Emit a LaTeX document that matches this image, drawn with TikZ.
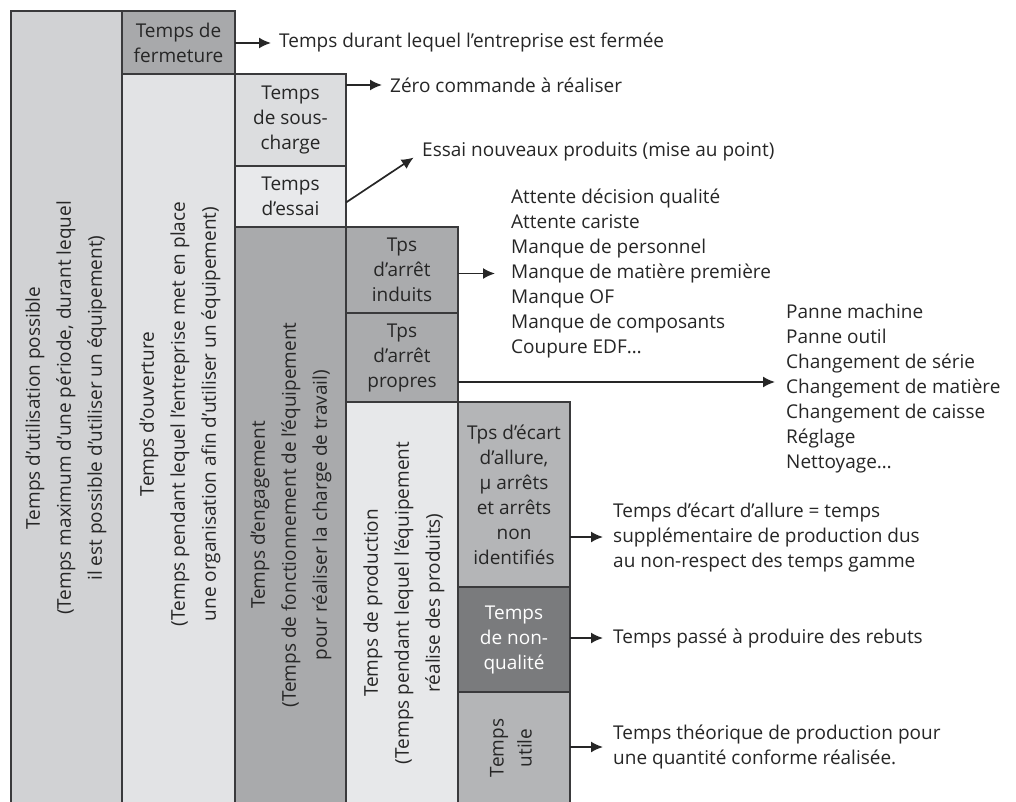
\documentclass[tikz,border=0pt]{standalone}
\usepackage{fontspec}
\setmainfont{Open Sans}
\usetikzlibrary{arrows.meta}
\definecolor{ink}{HTML}{262626}
\definecolor{edge}{HTML}{3A3A3C}
\definecolor{gPossible}{HTML}{D1D2D4}
\definecolor{gFerm}{HTML}{A8A9AB}
\definecolor{gOuv}{HTML}{E2E3E5}
\definecolor{gSous}{HTML}{DCDDDF}
\definecolor{gEssai}{HTML}{E8E9EB}
\definecolor{gEng}{HTML}{A9AAAC}
\definecolor{gArret}{HTML}{AAABAD}
\definecolor{gProd}{HTML}{E7E8EA}
\definecolor{gEcart}{HTML}{B4B5B7}
\definecolor{gNonq}{HTML}{7A7B7D}
\begin{document}
\begin{tikzpicture}[x=1pt,y=-1pt,
  font=\fontsize{19}{25}\selectfont, text=ink,
  box/.style={draw=edge, line width=1.8pt, anchor=north west, inner sep=0pt,
              outer sep=0pt, align=center},
  vtext/.style={rotate=90, align=center, inner sep=0pt,
                font=\fontsize{19}{31}\selectfont},
  note/.style={anchor=west, align=left, inner sep=0pt},
  arr/.style={draw=ink, line width=1.7pt, -{Latex[length=12pt,width=11pt]}, shorten >=8pt}]
\useasboundingbox (0,0) rectangle (1016,802);
\clip (0,0) rectangle (1016,802);

% column 1
\node[box, fill=gPossible, minimum width=111pt, minimum height=801pt] (poss) at (11,11) {};
% column 2
\node[box, fill=gFerm, minimum width=113pt, minimum height=63pt] (ferm) at (122,11) {Temps de\\fermeture};
\node[box, fill=gOuv, minimum width=113pt, minimum height=738pt] (ouv) at (122,74) {};
% column 3
\node[box, fill=gSous, minimum width=111pt, minimum height=92pt] (sous) at (235,74) {Temps\\de sous-\\charge};
\node[box, fill=gEssai, minimum width=111pt, minimum height=61pt] (essai) at (235,166) {Temps\\d’essai};
\node[box, fill=gEng, minimum width=111pt, minimum height=585pt] (eng) at (235,227) {};
% column 4
\node[box, fill=gArret, minimum width=112pt, minimum height=86pt] (induits) at (346,227) {Tps\\d’arrêt\\induits};
\node[box, fill=gArret, minimum width=112pt, minimum height=89pt] (propres) at (346,313) {Tps\\d’arrêt\\propres};
\node[box, fill=gProd, minimum width=112pt, minimum height=410pt] (prod) at (346,402) {};
% column 5
\node[box, fill=gEcart, minimum width=112pt, minimum height=185pt] (ecart) at (458,402) {Tps d’écart\\d’allure,\\µ arrêts\\et arrêts\\non\\identifiés};
\node[box, fill=gNonq, minimum width=112pt, minimum height=105pt, text=white] (nonq) at (458,587) {Temps\\de non-\\qualité};
\node[box, fill=gEcart, minimum width=112pt, minimum height=120pt] (utile) at (458,692) {};

% vertical labels
\node[vtext] (possT) at (66,408) {Temps d’utilisation possible\\(Temps maximum d’une période, durant lequel\\il est possible d’utiliser un équipement)};
\node[vtext] (ouvT) at (180,414) {Temps d’ouverture\\(Temps pendant lequel l’entreprise met en place\\une organisation afin d’utiliser un équipement)};
\node[vtext] (engT) at (291,515) {Temps d’engagement\\(Temps de fonctionnement de l’équipement\\pour réaliser la charge de travail)};
\node[vtext] (prodT) at (404,603) {Temps de production\\(Temps pendant lequel l’équipement\\réalise des produits)};
\node[vtext, font=\fontsize{19}{28}\selectfont] (utileT) at (511,748) {Temps\\utile};

% explanations
\node[note] (fermN) at (279,43) {Temps durant lequel l’entreprise est fermée};
\node[note] (sousN) at (390,85) {Zéro commande à réaliser};
\node[note] (essaiN) at (422,152) {Essai nouveaux produits (mise au point)};
\node[note] (induitsN) at (511,273.5) {Attente décision qualité\\Attente cariste\\Manque de personnel\\Manque de matière première\\Manque OF\\Manque de composants\\Coupure EDF…};
\node[note] (propresN) at (786,389) {Panne machine\\Panne outil\\Changement de série\\Changement de matière\\Changement de caisse\\Réglage\\Nettoyage…};
\node[note] (ecartN) at (613,537) {Temps d’écart d’allure = temps\\supplémentaire de production dus\\au non-respect des temps gamme};
\node[note] (nonqN) at (613,638) {Temps passé à produire des rebuts};
\node[note] (utileN) at (613,747) {Temps théorique de production pour\\une quantité conforme réalisée.};

% connectors
\draw[arr] (ferm.east |- fermN.west) -- (fermN.west);
\draw[arr] (sous.east |- sousN.west) -- (sousN.west);
\draw[arr, shorten >=10pt] ([yshift=-6pt]essai.east) -- (essaiN.west);
\draw[arr, shorten >=16pt] (induits.east |- induitsN.west) -- (induitsN.west);
\draw[arr, shorten >=11pt] (propres.east |- 0,382) -- (propresN.west |- 0,382);
\draw[arr, shorten >=10pt] (ecart.east |- ecartN.west) -- (ecartN.west);
\draw[arr, shorten >=10pt] (nonq.east |- nonqN.west) -- (nonqN.west);
\draw[arr, shorten >=10pt] (utile.east |- utileN.west) -- (utileN.west);
\end{tikzpicture}
\end{document}
